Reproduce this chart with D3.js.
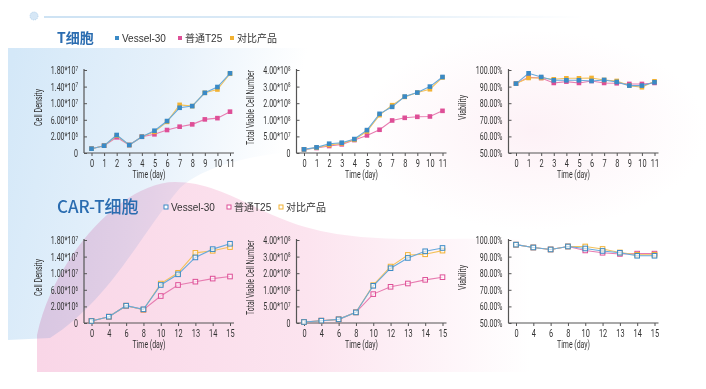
<!DOCTYPE html>
<html>
<head>
<meta charset="utf-8">
<script src="https://cdn.jsdelivr.net/npm/d3@7"></script>
<style>
body { margin: 0; background: #fff; }
svg { display: block; }
</style>
</head>
<body>
<svg id="chart" width="706" height="389"></svg>
<script>
// categories
var tDays = ["0", "1", "2", "3", "4", "5", "6", "7", "8", "9", "10", "11"];
var carDays = ["0", "4", "6", "8", "10", "12", "13", "14", "15"];
var seriesNames = ["Vessel-30", "普通T25", "对比产品"];

// T cells
var tDensityVessel = [0.52e6, 0.88e6, 2.34e6, 0.96e6, 1.96e6, 3.37e6, 5.7e6, 8.9e6, 9.3e6, 12.5e6, 13.9e6, 17.2e6];
var tDensityT25 = [0.52e6, 0.88e6, 1.89e6, 0.96e6, 1.96e6, 2.5e6, 3.54e6, 4.34e6, 4.9e6, 6.1e6, 6.4e6, 7.96e6];
var tDensityRef = [0.52e6, 0.88e6, 2.2e6, 0.96e6, 1.96e6, 3.1e6, 5.5e6, 9.6e6, 9.3e6, 12.5e6, 13.3e6, 17.1e6];

var tTotalVessel = [1.1e7, 1.7e7, 2.8e7, 3.1e7, 4.2e7, 6.9e7, 1.36e8, 1.78e8, 2.4e8, 2.64e8, 3.0e8, 3.58e8];
var tTotalT25 = [1.1e7, 1.5e7, 2.1e7, 2.6e7, 3.9e7, 5.3e7, 7.0e7, 9.8e7, 1.12e8, 1.18e8, 1.2e8, 1.54e8];
var tTotalRef = [1.1e7, 1.6e7, 2.4e7, 2.9e7, 4.0e7, 6.5e7, 1.28e8, 1.88e8, 2.38e8, 2.64e8, 2.84e8, 3.55e8];

var tViabVessel = [91.8, 98.0, 95.8, 93.8, 93.8, 93.8, 93.4, 94.0, 92.8, 90.6, 90.6, 92.6];
var tViabT25 = [91.8, 95.6, 95.2, 92.2, 93.0, 92.2, 93.4, 92.2, 92.0, 91.6, 91.6, 92.2];
var tViabRef = [91.8, 95.2, 95.2, 94.4, 95.0, 95.0, 95.2, 94.0, 93.4, 90.6, 89.6, 93.2];

// CAR-T cells
var carDensityVessel = [0.24e6, 0.76e6, 2.17e6, 1.65e6, 7.16e6, 9.73e6, 13.8e6, 15.8e6, 17.1e6];
var carDensityT25 = [0.24e6, 0.76e6, 2.17e6, 1.6e6, 4.5e6, 7.16e6, 7.96e6, 8.7e6, 9.2e6];
var carDensityRef = [0.24e6, 0.76e6, 2.17e6, 1.6e6, 7.5e6, 10.1e6, 14.9e6, 15.4e6, 16.3e6];

var carTotalVessel = [3e6, 7e6, 1.1e7, 3.2e7, 1.24e8, 2.3e8, 2.92e8, 3.32e8, 3.52e8];
var carTotalT25 = [3e6, 7e6, 1.1e7, 3.2e7, 8.7e7, 1.18e8, 1.38e8, 1.6e8, 1.76e8];
var carTotalRef = [3e6, 7e6, 1.1e7, 3.2e7, 1.28e8, 2.4e8, 3.1e8, 3.14e8, 3.36e8];

var carViabVessel = [97.2, 95.5, 94.3, 96.1, 94.9, 93.4, 92.3, 90.5, 90.5];
var carViabT25 = [97.2, 95.5, 94.3, 96.1, 93.7, 92.3, 91.6, 91.8, 91.8];
var carViabRef = [97.2, 95.5, 94.3, 96.1, 96.1, 94.6, 92.5, 91.1, 91.1];

// tick labels
var densityTicks = [0, 2e6, 6e6, 1e7, 1.4e7, 1.8e7];
var densityLabels = [["0", ""], ["2.00*10", "6"], ["6.00*10", "6"], ["1.00*10", "7"], ["1.40*10", "7"], ["1.80*10", "7"]];
var totalTicks = [0, 5e7, 1e8, 2e8, 3e8, 4e8];
var totalLabels = [["0", ""], ["5.00*10", "7"], ["1.00*10", "8"], ["2.00*10", "8"], ["3.00*10", "8"], ["4.00*10", "8"]];
var viabTicks = [50, 60, 70, 80, 90, 100];
var viabLabels = [["50.00%", ""], ["60.00%", ""], ["70.00%", ""], ["80.00%", ""], ["90.00%", ""], ["100.00%", ""]];

var colors = { vessel: "#3a8ac6", t25: "#de4f97", ref: "#f2b233" };
var lineColors = { vessel: "#67a9dc", t25: "#e77bb0", ref: "#f4c25a" };
var narrow = "Roboto, 'DejaVu Sans', sans-serif";
var squeeze = 0.64;

var svg = d3.select("#chart");
var defs = svg.append("defs");

// ---- background ----
var bg = defs.append("linearGradient").attr("id", "blueGrad")
    .attr("x1", "0").attr("y1", "0.1").attr("x2", "1").attr("y2", "0.3");
bg.append("stop").attr("offset", "0").attr("stop-color", "#d4e8f8");
bg.append("stop").attr("offset", "0.45").attr("stop-color", "#e6f1fb");
bg.append("stop").attr("offset", "0.85").attr("stop-color", "#ffffff");

var pg = defs.append("linearGradient").attr("id", "pinkGrad")
    .attr("x1", "0").attr("y1", "0").attr("x2", "1").attr("y2", "0");
pg.append("stop").attr("offset", "0").attr("stop-color", "#f9d6e7");
pg.append("stop").attr("offset", "0.55").attr("stop-color", "#fce4ef");
pg.append("stop").attr("offset", "1").attr("stop-color", "#ffffff");

var rg = defs.append("radialGradient").attr("id", "pinkSoft")
    .attr("cx", "0.5").attr("cy", "0.5").attr("r", "0.5");
rg.append("stop").attr("offset", "0").attr("stop-color", "#fdf1f6");
rg.append("stop").attr("offset", "1").attr("stop-color", "#ffffff");

var lg = defs.append("linearGradient").attr("id", "lineGrad")
    .attr("x1", "0").attr("y1", "0").attr("x2", "1").attr("y2", "0");
lg.append("stop").attr("offset", "0").attr("stop-color", "#9cc6e8");
lg.append("stop").attr("offset", "0.6").attr("stop-color", "#c3dcf0");
lg.append("stop").attr("offset", "1").attr("stop-color", "#ffffff");

svg.append("rect").attr("x", 360).attr("y", 30).attr("width", 346).attr("height", 200)
    .attr("fill", "url(#pinkSoft)");

svg.append("path")
    .attr("d", "M8,48 L340,48 L340,150 C260,150 205,165 180,188 C140,235 110,300 50,338 L8,340 Z")
    .attr("fill", "url(#blueGrad)");

svg.append("path")
    .attr("d", "M37,372 L37,335 C52,262 120,182 175,182 C215,182 245,205 290,222 C360,248 440,235 530,240 L530,372 Z")
    .attr("fill", "url(#pinkGrad)")
    .style("mix-blend-mode", "multiply");

// header decoration
svg.append("circle").attr("cx", 34).attr("cy", 16).attr("r", 4)
    .attr("fill", "#d6e7f6").attr("stroke", "#aacbe8").attr("stroke-width", 0.8)
    .attr("stroke-dasharray", "1 1");
svg.append("rect").attr("x", 44).attr("y", 16.5).attr("width", 540).attr("height", 1)
    .attr("fill", "url(#lineGrad)");

// ---- titles and legends ----
function drawHeader(y, title, size, weight, x0, gaps, hollow) {
    svg.append("text").attr("x", 57).attr("y", y).attr("dy", "0.36em")
        .attr("font-family", "'Noto Sans CJK SC', 'Noto Sans', sans-serif")
        .attr("font-size", size).attr("font-weight", weight)
        .attr("fill", "#2a6cb0").text(title);
    var keys = ["vessel", "t25", "ref"];
    keys.forEach(function(k, i) {
        var x = x0 + gaps[i];
        var sq = svg.append("rect").attr("x", x - 2).attr("y", y - 2).attr("width", 4).attr("height", 4);
        if (hollow) sq.attr("fill", "#fff").attr("stroke", colors[k]).attr("stroke-width", 1);
        else sq.attr("fill", colors[k]);
        svg.append("text").attr("x", x + 5).attr("y", y).attr("dy", "0.35em")
            .attr("font-family", "'Liberation Sans', 'Noto Sans CJK SC', sans-serif")
            .attr("font-size", 10).attr("fill", "#333").text(seriesNames[i]);
    });
}
drawHeader(38, "T细胞", 14, "bold", 117, [0, 63, 115], false);
drawHeader(207, "CAR-T细胞", 17, "500", 166, [0, 63, 115], true);

// ---- panels ----
var rows = [{ top: 70, bottom: 153 }, { top: 240, bottom: 323 }];
var axisXs = [84, 296.5, 508.5];

function yScaleFor(kind, row) {
    var b = row.bottom, t = row.top, s = (b - t) / 5;
    if (kind === "density") return d3.scaleLinear().domain([0, 2e6, 1.8e7]).range([b, b - s, t]);
    if (kind === "total") return d3.scaleLinear().domain([0, 5e7, 1e8, 4e8]).range([b, b - s, b - 2 * s, t]);
    return d3.scaleLinear().domain([50, 100]).range([b, t]);
}

var panels = [
    { r: 0, c: 0, kind: "density", days: tDays, ticks: densityTicks, labels: densityLabels, title: "Cell Density",
      data: { t25: tDensityT25, ref: tDensityRef, vessel: tDensityVessel } },
    { r: 0, c: 1, kind: "total", days: tDays, ticks: totalTicks, labels: totalLabels, title: "Total Viable Cell Number",
      data: { t25: tTotalT25, ref: tTotalRef, vessel: tTotalVessel } },
    { r: 0, c: 2, kind: "viab", days: tDays, ticks: viabTicks, labels: viabLabels, title: "Viability",
      data: { t25: tViabT25, ref: tViabRef, vessel: tViabVessel } },
    { r: 1, c: 0, kind: "density", days: carDays, ticks: densityTicks, labels: densityLabels, title: "Cell Density",
      data: { t25: carDensityT25, ref: carDensityRef, vessel: carDensityVessel } },
    { r: 1, c: 1, kind: "total", days: carDays, ticks: totalTicks, labels: totalLabels, title: "Total Viable Cell Number",
      data: { t25: carTotalT25, ref: carTotalRef, vessel: carTotalVessel } },
    { r: 1, c: 2, kind: "viab", days: carDays, ticks: viabTicks, labels: viabLabels, title: "Viability",
      data: { t25: carViabT25, ref: carViabRef, vessel: carViabVessel } }
];
var titleLens = { "Cell Density": 37, "Total Viable Cell Number": 75, "Viability": 25 };

panels.forEach(function(p) {
    var row = rows[p.r], ax = axisXs[p.c];
    var x = d3.scalePoint().domain(p.days).range([ax + 7.5, ax + 146]);
    var y = yScaleFor(p.kind, row);
    var g = svg.append("g");

    // y axis
    var yg = g.append("g").attr("transform", "translate(" + ax + ",0)")
        .call(d3.axisLeft(y).tickValues(p.ticks).tickSizeInner(-3).tickSizeOuter(0).tickPadding(6));
    yg.select(".domain").remove();
    yg.selectAll(".tick line").attr("stroke", "#555");
    yg.selectAll(".tick text").each(function(d, i) {
        var lab = p.labels[i], t = d3.select(this).text(null)
            .attr("x", -6 / squeeze).attr("transform", "scale(" + squeeze + ",1)")
            .attr("font-family", narrow).attr("font-size", 11).attr("fill", "#333");
        t.append("tspan").text(lab[0]);
        if (lab[1]) t.append("tspan").attr("dy", "-0.45em").attr("font-size", 7).text(lab[1]);
    });

    // x axis
    var xg = g.append("g").attr("transform", "translate(0," + row.bottom + ")")
        .call(d3.axisBottom(x).tickSizeInner(3).tickSizeOuter(0).tickPadding(3));
    xg.select(".domain").remove();
    xg.selectAll(".tick line").attr("stroke", "#555");
    xg.selectAll(".tick text").attr("font-family", narrow).attr("font-size", 11.5).attr("fill", "#333")
        .each(function() {
            var w = this.getComputedTextLength();
            d3.select(this).attr("textLength", w * squeeze).attr("lengthAdjust", "spacingAndGlyphs");
        });

    g.append("line").attr("x1", ax).attr("x2", ax).attr("y1", row.top - 1).attr("y2", row.bottom)
        .attr("stroke", "#555").attr("stroke-width", 1.2);
    g.append("line").attr("x1", ax).attr("x2", ax + 150).attr("y1", row.bottom).attr("y2", row.bottom)
        .attr("stroke", "#555").attr("stroke-width", 1.2);

    // axis titles
    g.append("text").attr("x", ax + 65).attr("y", row.bottom + 24.5)
        .attr("text-anchor", "middle").attr("font-family", narrow).attr("font-size", 11).attr("fill", "#333")
        .attr("textLength", 33).attr("lengthAdjust", "spacingAndGlyphs").text("Time (day)");
    var cy = (row.top + row.bottom) / 2 - 4;
    g.append("text").attr("transform", "translate(" + (ax - 46) + "," + cy + ") rotate(-90)")
        .attr("text-anchor", "middle").attr("dy", "0.35em")
        .attr("font-family", narrow).attr("font-size", 11).attr("fill", "#333")
        .attr("textLength", titleLens[p.title]).attr("lengthAdjust", "spacingAndGlyphs").text(p.title);

    // series
    var line = d3.line().x(function(d, i) { return x(p.days[i]); }).y(function(d) { return y(d); });
    ["t25", "ref", "vessel"].forEach(function(k) {
        var vals = p.data[k];
        g.append("path").datum(vals).attr("d", line).attr("fill", "none")
            .attr("stroke", lineColors[k]).attr("stroke-width", 1.1);
        var m = g.selectAll(".m-" + k).data(vals).enter().append("rect")
            .attr("x", function(d, i) { return x(p.days[i]) - 2.3; })
            .attr("y", function(d) { return y(d) - 2.3; })
            .attr("width", 4.6).attr("height", 4.6);
        if (p.r === 0) m.attr("fill", colors[k]);
        else m.attr("fill", "#fff").attr("fill-opacity", 0.6).attr("stroke", colors[k]).attr("stroke-width", 1);
    });
});
</script>
</body>
</html>
